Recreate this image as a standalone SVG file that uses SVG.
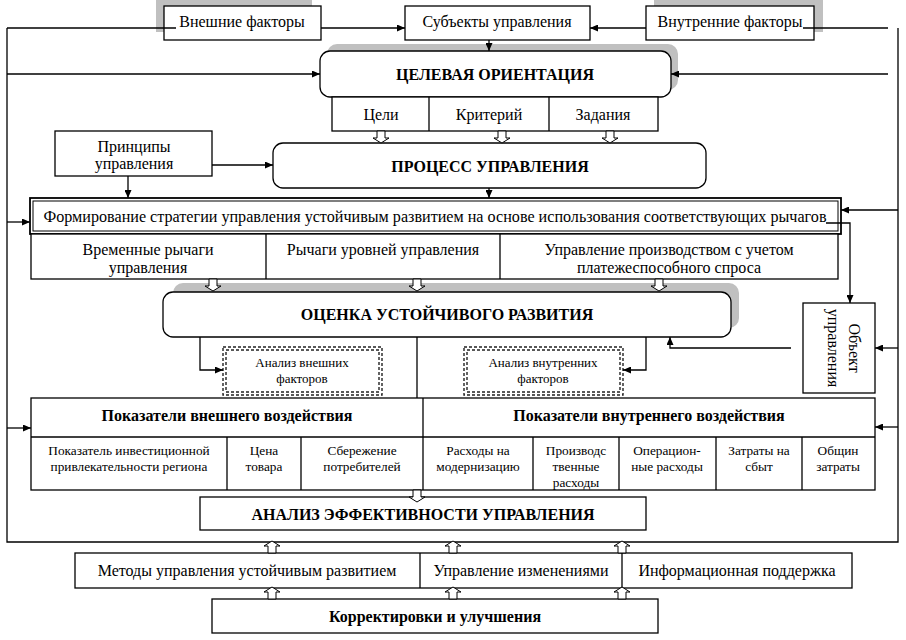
<svg xmlns="http://www.w3.org/2000/svg" width="906" height="640" viewBox="0 0 906 640">
<defs>
<style>
.box{fill:#fff;stroke:#000;stroke-width:1.3}
.t{font-family:'Liberation Serif','Times New Roman',serif;font-size:16px;fill:#000;text-anchor:middle;dominant-baseline:central}
.b{font-weight:bold}
.s{font-size:13.3px}
.a{font-size:13px}
.ln{fill:none;stroke:#000;stroke-width:1.3}
.arr{fill:none;stroke:#000;stroke-width:1.3;marker-end:url(#ah)}
.sh{fill:#c0c0c0}
.hol{fill:#fff;stroke:#000;stroke-width:1}
.dot{fill:none;stroke:#222;stroke-width:1.4;stroke-dasharray:3 2}
</style>
<marker id="ah" markerUnits="userSpaceOnUse" markerWidth="8" markerHeight="7" refX="8" refY="3.5" orient="auto">
<path d="M0,0 L8,3.5 L0,7 Z" fill="#000"/>
</marker>
<path id="hd" d="M-4,0 V7 H-8 L0,12 L8,7 H4 V0 Z"/>
</defs>

<g id="frame">
<path class="ln" d="M7,28 V542 H898 V28"/>
</g>

<g id="shadows">
<rect class="sh" x="156" y="0" width="156" height="32"/>
<rect class="sh" x="654" y="0" width="169" height="32"/>
<rect class="sh" x="327" y="44" width="351" height="46" rx="10"/>
<rect class="sh" x="173" y="283" width="566" height="45" rx="10"/>
</g>

<g id="vneshnie">
<rect class="box" x="164" y="6" width="157" height="34"/>
<text class="t" x="242" y="21">Внешние факторы</text>
</g>
<g id="subekty">
<rect class="box" x="405" y="6" width="185" height="34"/>
<text class="t" x="497" y="21">Субъекты управления</text>
</g>
<g id="vnutrennie">
<rect class="box" x="646" y="6" width="168" height="34"/>
<text class="t" x="730" y="21">Внутренние факторы</text>
</g>

<g id="celevaya">
<rect class="box" x="320" y="51" width="351" height="46" rx="10"/>
<text class="t b" x="495" y="74">ЦЕЛЕВАЯ ОРИЕНТАЦИЯ</text>
</g>
<g id="celi">
<rect class="box" x="332" y="97" width="326" height="34"/>
<line class="ln" x1="429" y1="97" x2="429" y2="131"/>
<line class="ln" x1="549" y1="97" x2="549" y2="131"/>
<text class="t" x="381" y="114">Цели</text>
<text class="t" x="489" y="114">Критерий</text>
<text class="t" x="603" y="114">Задания</text>
</g>

<g id="principy">
<rect class="box" x="55" y="131" width="157" height="45"/>
<text class="t" x="134" y="146">Принципы</text>
<text class="t" x="134" y="163">управления</text>
</g>
<g id="process">
<rect class="box" x="273" y="143" width="433" height="45" rx="10"/>
<text class="t b" x="490" y="166">ПРОЦЕСС УПРАВЛЕНИЯ</text>
</g>

<g id="formirovanie">
<rect x="30" y="198" width="811" height="36" fill="#fff" stroke="#000" stroke-width="1.8"/>
<rect x="33" y="201" width="805" height="30" fill="none" stroke="#000" stroke-width="1"/>
<text class="t" x="435" y="216" textLength="783" lengthAdjust="spacingAndGlyphs">Формирование стратегии управления устойчивым развитием на основе использования соответствующих рычагов</text>
</g>
<g id="rychagi">
<rect class="box" x="31" y="234" width="807" height="45"/>
<line class="ln" x1="266" y1="234" x2="266" y2="279"/>
<line class="ln" x1="500" y1="234" x2="500" y2="279"/>
<text class="t" x="148" y="249">Временные рычаги</text>
<text class="t" x="148" y="267">управления</text>
<text class="t" x="383" y="249">Рычаги уровней управления</text>
<text class="t" x="669" y="249">Управление производством с учетом</text>
<text class="t" x="669" y="267">платежеспособного спроса</text>
</g>

<g id="ocenka">
<rect class="box" x="163" y="292" width="568" height="45" rx="10"/>
<text class="t b" x="447" y="314">ОЦЕНКА УСТОЙЧИВОГО РАЗВИТИЯ</text>
</g>

<g id="analiz-vn">
<rect class="dot" x="223" y="347" width="159" height="48"/>
<rect class="dot" x="226" y="350" width="153" height="42"/>
<text class="t a" x="302" y="362">Анализ внешних</text>
<text class="t a" x="302" y="378">факторов</text>
</g>
<g id="analiz-vnutr">
<rect class="dot" x="464" y="347" width="159" height="48"/>
<rect class="dot" x="467" y="350" width="153" height="42"/>
<text class="t a" x="543" y="362">Анализ внутренних</text>
<text class="t a" x="543" y="378">факторов</text>
</g>

<g id="obekt">
<rect class="box" x="803" y="303" width="72" height="90"/>
<text class="t" transform="translate(854,348) rotate(90)">Объект</text>
<text class="t" transform="translate(833,348) rotate(90)">управления</text>
</g>

<g id="pokazateli">
<rect class="box" x="31" y="398" width="844" height="92"/>
<line class="ln" x1="31" y1="437" x2="875" y2="437"/>
<line class="ln" x1="423" y1="398" x2="423" y2="490"/>
<line class="ln" x1="227" y1="437" x2="227" y2="490"/>
<line class="ln" x1="301" y1="437" x2="301" y2="490"/>
<line class="ln" x1="533" y1="437" x2="533" y2="490"/>
<line class="ln" x1="619" y1="437" x2="619" y2="490"/>
<line class="ln" x1="716" y1="437" x2="716" y2="490"/>
<line class="ln" x1="802" y1="437" x2="802" y2="490"/>
<text class="t b" x="227" y="415">Показатели внешнего воздействия</text>
<text class="t b" x="649" y="415">Показатели внутреннего воздействия</text>
<text class="t s" x="129" y="450">Показатель инвестиционной</text>
<text class="t s" x="129" y="466">привлекательности региона</text>
<text class="t s" x="264" y="450">Цена</text>
<text class="t s" x="264" y="466">товара</text>
<text class="t s" x="362" y="450">Сбережение</text>
<text class="t s" x="362" y="466">потребителей</text>
<text class="t s" x="478" y="450">Расходы на</text>
<text class="t s" x="478" y="466">модернизацию</text>
<text class="t s" x="576" y="450">Производс</text>
<text class="t s" x="576" y="466">твенные</text>
<text class="t s" x="576" y="482">расходы</text>
<text class="t s" x="667" y="450">Операцион-</text>
<text class="t s" x="667" y="466">ные расходы</text>
<text class="t s" x="759" y="450">Затраты на</text>
<text class="t s" x="759" y="466">сбыт</text>
<text class="t s" x="838" y="450">Общин</text>
<text class="t s" x="838" y="466">затраты</text>
</g>

<g id="analiz-eff">
<rect class="box" x="200" y="497" width="446" height="33"/>
<text class="t b" x="423" y="514">АНАЛИЗ ЭФФЕКТИВНОСТИ УПРАВЛЕНИЯ</text>
</g>

<g id="metody">
<rect class="box" x="75" y="553" width="777" height="35"/>
<line class="ln" x1="420" y1="553" x2="420" y2="588"/>
<line class="ln" x1="622" y1="553" x2="622" y2="588"/>
<text class="t" x="247" y="570">Методы управления устойчивым развитием</text>
<text class="t" x="521" y="570">Управление изменениями</text>
<text class="t" x="737" y="570">Информационная поддержка</text>
</g>

<g id="korrektirovki">
<rect class="box" x="212" y="599" width="446" height="34"/>
<text class="t b" x="435" y="616">Корректировки и улучшения</text>
</g>

<g id="connectors">
<path class="ln" d="M7,28 H176"/>
<path class="arr" d="M321,28 H405"/>
<path class="arr" d="M646,28 H590"/>
<path class="ln" d="M803,28 H888"/>
<path class="arr" d="M7,74 H320"/>
<path class="arr" d="M888,74 H671"/>
<path class="arr" d="M489,40 V51"/>
<path class="arr" d="M212,165 H273"/>
<path class="arr" d="M128,176 V198"/>
<path class="arr" d="M489,188 V198"/>
<path class="arr" d="M7,222 H30"/>
<path class="arr" d="M898,210 H841"/>
<path class="arr" d="M826,223 H850 V303"/>
<path class="arr" d="M200,337 V370 H223"/>
<path class="arr" d="M646,337 V370 H623"/>
<path class="arr" d="M791,348 H670 V337"/>
<path class="arr" d="M898,348 H875"/>
<path class="ln" d="M417,337 V398"/>
<path class="arr" d="M7,428 H31"/>
<path class="arr" d="M898,427 H875"/>
<use href="#hd" class="hol" x="381" y="131"/>
<use href="#hd" class="hol" x="502" y="131"/>
<use href="#hd" class="hol" x="610" y="131"/>
<use href="#hd" class="hol" x="213" y="279"/>
<use href="#hd" class="hol" x="417" y="279"/>
<use href="#hd" class="hol" x="659" y="279"/>
<use href="#hd" class="hol" x="417" y="490"/>
<use href="#hd" class="hol" transform="translate(272,553) scale(1,-1)"/>
<use href="#hd" class="hol" transform="translate(453,553) scale(1,-1)"/>
<use href="#hd" class="hol" transform="translate(622,553) scale(1,-1)"/>
<use href="#hd" class="hol" transform="translate(272,599) scale(1,-1)"/>
<use href="#hd" class="hol" transform="translate(453,599) scale(1,-1)"/>
<use href="#hd" class="hol" transform="translate(622,599) scale(1,-1)"/>
</g>
</svg>
